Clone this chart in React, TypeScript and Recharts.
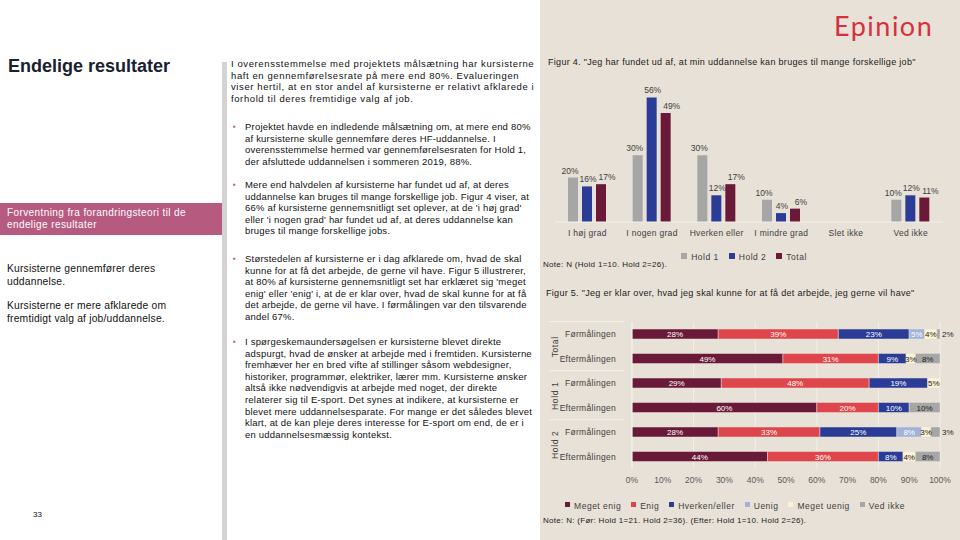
import React from 'react';
import { BarChart, Bar, XAxis, YAxis, CartesianGrid, Legend, LabelList } from 'recharts';

// Figur 4
const fig4Categories = ['I høj grad', 'I nogen grad', 'Hverken eller', 'I mindre grad', 'Slet ikke', 'Ved ikke'];
const fig4Hold1 = [20, 30, 30, 10, null, 10];
const fig4Hold2 = [16, 56, 12, 4, null, 12];
const fig4Total = [17, 49, 17, 6, null, 11];

// Figur 5
const fig5Groups = ['Total', 'Total', 'Hold 1', 'Hold 1', 'Hold 2', 'Hold 2'];
const fig5Rows = ['Førmålingen', 'Eftermålingen', 'Førmålingen', 'Eftermålingen', 'Førmålingen', 'Eftermålingen'];
const megetEnig = [28, 49, 29, 60, 28, 44];
const enig = [39, 31, 48, 20, 33, 36];
const hverken = [23, 9, 19, 10, 25, 8];
const uenig = [5, 0, 0, 0, 8, 0];
const megetUenig = [4, 3, 5, 0, 3, 4];
const vedIkke = [2, 8, 0, 10, 3, 8];
const fig5Ticks = [0, 10, 20, 30, 40, 50, 60, 70, 80, 90, 100];

const FONT = '"Liberation Sans", Arial, sans-serif';
const BEIGE = '#e7e1d7';
const TEXT = '#404040';

const fig4Data = fig4Categories.map((c, i) => ({
    cat: c, hold1: fig4Hold1[i], hold2: fig4Hold2[i], total: fig4Total[i],
}));

const fig5Data = fig5Rows.map((r, i) => ({
    row: r, megetEnig: megetEnig[i], enig: enig[i], hverken: hverken[i],
    uenig: uenig[i], megetUenig: megetUenig[i], vedIkke: vedIkke[i],
}));

const fig5Series = [
    { key: 'megetEnig', name: 'Meget enig', color: '#6a1a38', label: '#ffffff' },
    { key: 'enig', name: 'Enig', color: '#df464b', label: '#ffffff' },
    { key: 'hverken', name: 'Hverken/eller', color: '#2b3c97', label: '#ffffff' },
    { key: 'uenig', name: 'Uenig', color: '#a3b2da', label: '#ffffff' },
    { key: 'megetUenig', name: 'Meget uenig', color: '#fdf3d2', label: '#222222' },
    { key: 'vedIkke', name: 'Ved ikke', color: '#a6a6a6', label: '#222222' },
];
const fig5Order = (item: any) => fig5Series.findIndex((s) => s.key === item.dataKey);

const pct = (v: any) => (v ? `${v}%` : '');
const legendText = (v: string) => <span style={{ color: TEXT, fontSize: 8.5, letterSpacing: 0.5 }}>{v}</span>;

// bar value labels, nudged sideways a little like the original's leader-line labels
const topLabel = (dx: number) => (p: any) => {
    if (!p.value) return null;
    return (
        <text x={p.x + p.width / 2 + dx} y={p.y - 4} textAnchor="middle" fontSize={8.5} fill={TEXT} fontFamily={FONT}>
            {pct(p.value)}
        </text>
    );
};

// stacked segment labels; tiny last segments get their label just past the bar end
const segLabel = (fill: string, pushOut: boolean) => (p: any) => {
    if (!p.value) return null;
    const out = pushOut && p.value <= 3;
    return (
        <text x={out ? p.x + p.width + 2 : p.x + p.width / 2} y={p.y + p.height / 2 + 3}
            textAnchor={out ? 'start' : 'middle'} fontSize={8} fill={out ? '#222' : fill} fontFamily={FONT}>
            {pct(p.value)}
        </text>
    );
};

const RowTick = (props: any) => {
    const { x, y, payload, index } = props;
    return (
        <g>
            <text x={x - 8} y={y} dy={3} textAnchor="end" fontSize={8.5} fill={TEXT} fontFamily={FONT} letterSpacing={0.3}>
                {payload.value}
            </text>
            {index % 2 === 0 && (
                <>
                    <line x1={9} x2={x} y1={y - 12.6} y2={y - 12.6} stroke="#f4f1ec" />
                    <text transform={`translate(18, ${y + 12.6}) rotate(-90)`} textAnchor="middle" fontSize={8.5} fill={TEXT} fontFamily={FONT} letterSpacing={0.6}>
                        {fig5Groups[index]}
                    </text>
                </>
            )}
        </g>
    );
};

const p1 = [
    'I overensstemmelse med projektets målsætning har kursisterne',
    'haft en gennemførelsesrate på mere end 80%. Evalueringen',
    'viser hertil, at en stor andel af kursisterne er relativt afklarede i',
    'forhold til deres fremtidige valg af job.',
];
const bullets = [
    { top: 121, lines: [
        'Projektet havde en indledende målsætning om, at mere end 80%',
        'af kursisterne skulle gennemføre deres HF-uddannelse. I',
        'overensstemmelse hermed var gennemførelsesraten for Hold 1,',
        'der afsluttede uddannelsen i sommeren 2019, 88%.',
    ] },
    { top: 179, lines: [
        'Mere end halvdelen af kursisterne har fundet ud af, at deres',
        'uddannelse kan bruges til mange forskellige job. Figur 4 viser, at',
        "66% af kursisterne gennemsnitligt set oplever, at de 'i høj grad'",
        "eller 'i nogen grad' har fundet ud af, at deres uddannelse kan",
        'bruges til mange forskellige jobs.',
    ] },
    { top: 253, lines: [
        'Størstedelen af kursisterne er i dag afklarede om, hvad de skal',
        'kunne for at få det arbejde, de gerne vil have. Figur 5 illustrerer,',
        "at 80% af kursisterne gennemsnitligt set har erklæret sig 'meget",
        "enig' eller 'enig' i, at de er klar over, hvad de skal kunne for at få",
        'det arbejde, de gerne vil have. I førmålingen var den tilsvarende',
        'andel 67%.',
    ] },
    { top: 336, lines: [
        'I spørgeskemaundersøgelsen er kursisterne blevet direkte',
        'adspurgt, hvad de ønsker at arbejde med i fremtiden. Kursisterne',
        'fremhæver her en bred vifte af stillinger såsom webdesigner,',
        'historiker, programmør, elektriker, lærer mm. Kursisterne ønsker',
        'altså ikke nødvendigvis at arbejde med noget, der direkte',
        'relaterer sig til E-sport. Det synes at indikere, at kursisterne er',
        'blevet mere uddannelsesparate. For mange er det således blevet',
        'klart, at de kan pleje deres interesse for E-sport om end, de er i',
        'en uddannelsesmæssig kontekst.',
    ] },
];

const bodyText: React.CSSProperties = {
    position: 'absolute', fontSize: 9.5, lineHeight: '11.6px', color: '#111', whiteSpace: 'nowrap', letterSpacing: 0.2,
};

export default function App() {
    return (
        <div style={{ position: 'absolute', left: 0, top: 0, width: 960, height: 540, background: '#fff', overflow: 'hidden', fontFamily: FONT }}>
            {/* left column */}
            <div style={{ position: 'absolute', left: 8, top: 56, fontSize: 18, fontWeight: 700, color: '#17212f' }}>Endelige resultater</div>
            <div style={{ position: 'absolute', left: 0, top: 203, width: 222, height: 32, background: '#b65a80' }} />
            <div style={{ position: 'absolute', left: 7, top: 207, fontSize: 10, lineHeight: '12px', color: '#fff', letterSpacing: 0.4 }}>
                Forventning fra forandringsteori til de<br />endelige resultater
            </div>
            <div style={{ position: 'absolute', left: 7, top: 263, fontSize: 10.3, lineHeight: '12.7px', color: '#111', letterSpacing: 0.2 }}>
                Kursisterne gennemfører deres<br />uddannelse.
            </div>
            <div style={{ position: 'absolute', left: 7, top: 300, fontSize: 10.3, lineHeight: '12.7px', color: '#111', letterSpacing: 0.2 }}>
                Kursisterne er mere afklarede om<br />fremtidigt valg af job/uddannelse.
            </div>
            <div style={{ position: 'absolute', left: 33, top: 510, fontSize: 8, color: '#111' }}>33</div>
            <div style={{ position: 'absolute', left: 222, top: 62, width: 5, height: 478, background: '#d3d3d3' }} />

            {/* middle column */}
            <div style={{ ...bodyText, left: 231, top: 58, letterSpacing: 0.6 }}>
                {p1.map((l) => <div key={l}>{l}</div>)}
            </div>
            {bullets.map((b) => (
                <div key={b.top} style={{ ...bodyText, left: 245, top: b.top }}>
                    <div style={{ position: 'absolute', left: -12, top: 0, color: '#b65a80', fontSize: 8 }}>▪</div>
                    {b.lines.map((l) => <div key={l}>{l}</div>)}
                </div>
            ))}

            {/* right panel */}
            <div style={{ position: 'absolute', left: 540, top: 0, width: 420, height: 540, background: BEIGE }} />
            <div style={{ position: 'absolute', left: 834, top: 9, fontSize: 27, letterSpacing: 1.5, fontFamily: 'Lato, sans-serif', color: '#d7303c' }}>Epinion</div>

            <div style={{ position: 'absolute', left: 548, top: 57, fontSize: 9, color: '#222', letterSpacing: 0.3, whiteSpace: 'nowrap' }}>
                Figur 4. "Jeg har fundet ud af, at min uddannelse kan bruges til mange forskellige job"
            </div>
            <div style={{ position: 'absolute', left: 540, top: 70 }}>
                <BarChart width={420} height={200} data={fig4Data} margin={{ top: 18.5, right: 17, left: 15, bottom: 6 }} barSize={10} barGap={4}>
                    <XAxis dataKey="cat" height={24} axisLine={{ stroke: '#f4f1ec' }} tickLine={false}
                        tick={{ fontSize: 8.5, fill: TEXT, fontFamily: FONT, letterSpacing: 0.3 }} interval={0} />
                    <YAxis hide domain={[0, 60]} />
                    <Legend iconType="square" iconSize={6} formatter={legendText} wrapperStyle={{ fontFamily: FONT }} />
                    <Bar dataKey="hold1" name="Hold 1" fill="#a6a6a6" isAnimationActive={false}>
                        <LabelList dataKey="hold1" content={topLabel(-3)} />
                    </Bar>
                    <Bar dataKey="hold2" name="Hold 2" fill="#2b3c97" isAnimationActive={false}>
                        <LabelList dataKey="hold2" content={topLabel(1)} />
                    </Bar>
                    <Bar dataKey="total" name="Total" fill="#6a1a38" isAnimationActive={false}>
                        <LabelList dataKey="total" content={topLabel(6)} />
                    </Bar>
                </BarChart>
            </div>
            <div style={{ position: 'absolute', left: 543, top: 260, fontSize: 8, color: '#222', letterSpacing: 0.3 }}>
                Note: N (Hold 1=10. Hold 2=26).
            </div>

            <div style={{ position: 'absolute', left: 546, top: 288, fontSize: 9, color: '#222', letterSpacing: 0.3, whiteSpace: 'nowrap' }}>
                Figur 5. "Jeg er klar over, hvad jeg skal kunne for at få det arbejde, jeg gerne vil have"
            </div>
            <div style={{ position: 'absolute', left: 540, top: 310 }}>
                <BarChart width={420} height={210} data={fig5Data} layout="vertical" margin={{ top: 12, right: 20, left: 0, bottom: 7 }} barSize={10}>
                    <CartesianGrid horizontal={false} stroke="#f3f0ea" />
                    <XAxis type="number" domain={[0, 100]} ticks={fig5Ticks} allowDataOverflow height={26}
                        tickFormatter={(v) => `${v}%`} axisLine={false} tickLine={false}
                        tick={{ fontSize: 8.5, fill: '#595959', fontFamily: FONT }} />
                    <YAxis type="category" dataKey="row" width={92} axisLine={{ stroke: '#f3f0ea' }} tickLine={false}
                        tick={<RowTick />} interval={0} />
                    <Legend iconType="square" iconSize={5} formatter={legendText} itemSorter={fig5Order} wrapperStyle={{ fontFamily: FONT }} />
                    {fig5Series.map((s) => (
                        <Bar key={s.key} dataKey={s.key} name={s.name} stackId="a" fill={s.color} stroke={BEIGE} strokeWidth={0.5} isAnimationActive={false}>
                            <LabelList dataKey={s.key} content={segLabel(s.label, s.key === 'vedIkke')} />
                        </Bar>
                    ))}
                </BarChart>
            </div>
            <div style={{ position: 'absolute', left: 543, top: 516, fontSize: 8, color: '#222', letterSpacing: 0.3, whiteSpace: 'nowrap' }}>
                Note: N: (Før: Hold 1=21. Hold 2=36). (Efter: Hold 1=10. Hold 2=26).
            </div>
        </div>
    );
}
